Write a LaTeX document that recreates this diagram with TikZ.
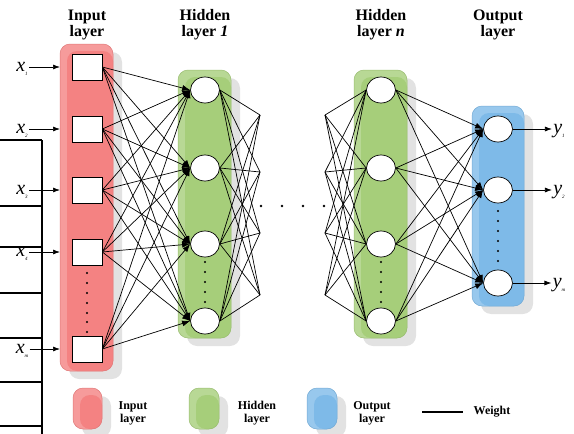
\documentclass[tikz,border=0pt]{standalone}
\usepackage{fontspec}
\setmainfont{Liberation Serif}
\usetikzlibrary{arrows.meta,shapes.geometric}

\definecolor{inred}{RGB}{244,130,130}
\definecolor{hidgreen}{RGB}{166,206,122}
\definecolor{outblue}{RGB}{126,186,232}
\definecolor{shadowgray}{RGB}{226,226,226}
\newcommand{\vlab}[2]{{\fontsize{20}{20}\selectfont\itshape #1}\raisebox{-4pt}{\fontsize{5}{5}\selectfont\itshape #2}}

\begin{document}
\begin{tikzpicture}[x=1pt,y=-1pt,line width=0.7pt,
			sq/.style={draw,fill=white,minimum width=30pt,minimum height=26pt,inner sep=0},
			nrn/.style={draw,fill=white,ellipse,minimum width=29pt,minimum height=26pt,inner sep=0},
			wt/.style={-{Latex[length=8pt,width=6pt]}},
			lab/.style={anchor=base,inner sep=1pt},
			ttl/.style={font=\fontsize{16}{16}\selectfont\bfseries,align=center},
			lgd/.style={font=\fontsize{12}{13}\selectfont\bfseries,align=center},
			smalldot/.style={circle,fill,inner sep=0,minimum size=2.6pt}]
			\useasboundingbox (0,0) rectangle (574,434);
			\draw[line width=1.8pt] (42,140) -- (42,434);
			\foreach \y in {140,206,247,293,338,382,426}
				\draw[line width=1.8pt] (0,\y) -- (42,\y);
			\foreach \a/\b/\c/\d/\col in {60/44/113/371/inred,178/70/231/338/hidgreen,354/70/407/338/hidgreen,472/106/524/306/outblue,73/388/102/429/inred,189/388/219/429/hidgreen,307/388/337/429/outblue}{
				\fill[shadowgray,rounded corners=10pt] (\a+9,\b+8) rectangle (\c+9,\d+8);
				\fill[\col!80!white,rounded corners=10pt] (\a,\b) rectangle (\c,\d);
				\fill[\col,rounded corners=10pt] (\a+7,\b+7) rectangle (\c,\d);
				\draw[\col!92!black,line width=0.5pt,rounded corners=10pt] (\a,\b) rectangle (\c,\d);
			}
			\node[ttl] (tin) at (87,25) {Input\\layer};
			\node[ttl] (th1) at (205,25) {Hidden\\layer \textit{1}};
			\node[ttl] (thn) at (381,25) {Hidden\\layer \textit{n}};
			\node[ttl] (tout) at (498,25) {Output\\layer};
			\coordinate (inedge) at (60,0);
			\foreach \y/\s [count=\i] in {67/1,129/2,190/3,252/4,349/m}{
				\node[sq] (in\i) at (87,\y) {};
				\node[lab] (xl\i) at (22,\y+4) {\vlab{x}{\s}};
				\draw[-{Latex[length=7pt,width=5pt]}] (xl\i.east |- in\i) -- (inedge |- in\i);
			}
			\foreach \y [count=\i] in {90,168,244,321}{
				\node[nrn] (h\i) at (205,\y) {};
				\node[nrn] (hn\i) at (381,\y) {};
			}
			\foreach \y [count=\i] in {115,172,233,295}{
				\coordinate (f\i) at (260,\y);
				\coordinate (g\i) at (325,\y);
			}
			\foreach \y/\s [count=\i] in {129/1,190/2,283/m}{
				\node[nrn] (out\i) at (498,\y) {};
				\node[lab] (yl\i) at (559,\y+4) {\vlab{y}{\s}};
				\draw[-{Latex[length=7pt,width=5pt]}] (out\i.east) -- (yl\i.west |- out\i);
			}
			\foreach \i in {1,...,5}
				\foreach \j in {1,...,4}
					\draw[wt] (in\i.east) -- (h\j.west);
			\foreach \i in {1,...,4}
				\foreach \j in {1,...,4}{
					\draw (h\i.east) -- (f\j);
					\draw (g\j) -- (hn\i.west);
				}
			\foreach \i in {1,...,4}
				\foreach \j in {1,...,3}
					\draw[wt] (hn\i.east) -- (out\j.west);
			\foreach \x in {261,282,303,324}
				\node[smalldot] at (\x,206) {};
			\foreach \y in {273,283,293,303,313,322,332}
				\node[smalldot,minimum size=2.2pt] at (87,\y) {};
			\foreach \y in {262,272,282,292,302}{
				\node[smalldot,minimum size=2.2pt] at (205,\y) {};
				\node[smalldot,minimum size=2.2pt] at (381,\y) {};
			}
			\foreach \y in {211,221,231,241,251,261}
				\node[smalldot,minimum size=2.2pt] at (498,\y) {};
			\node[lgd] (lin) at (133,413) {Input\\layer};
			\node[lgd] (lhid) at (257,413) {Hidden\\layer};
			\node[lgd] (lout) at (372,413) {Output\\layer};
			\coordinate (wa) at (422,412);
			\coordinate (wb) at (463,412);
			\draw[line width=1.3pt] (wa) -- (wb);
			\node[lgd] (lw) at (492,412) {Weight};
		\end{tikzpicture}
\end{document}
